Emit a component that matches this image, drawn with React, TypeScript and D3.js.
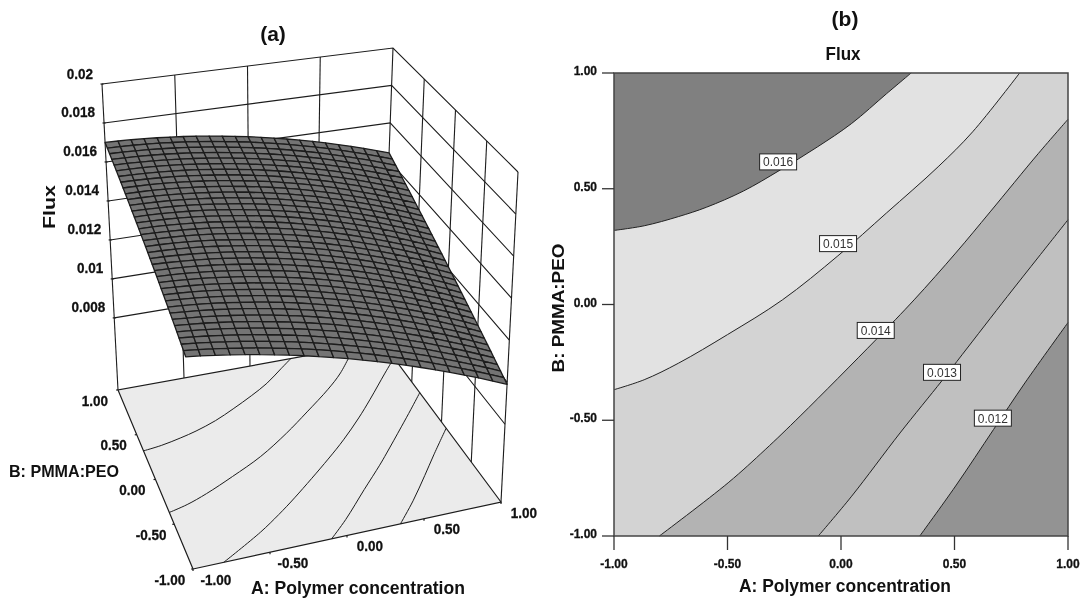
import React from "react";
import * as d3 from "d3";

// ---- data ----
const axisTicks = [-1, -0.5, 0, 0.5, 1];
const axisTickLabels = ["-1.00", "-0.50", "0.00", "0.50", "1.00"];
const fluxTicks = [0.02, 0.018, 0.016, 0.014, 0.012, 0.01, 0.008];
const fluxTickLabels = ["0.02", "0.018", "0.016", "0.014", "0.012", "0.01", "0.008"];
const fluxFloor = 0.0043;

// contour lines, [A, B]
const contour016 = [[-1, 0.32], [-0.867, 0.34], [-0.715, 0.38], [-0.593, 0.42], [-0.43, 0.49], [-0.273, 0.578], [-0.105, 0.68], [0.047, 0.782], [0.2, 0.91], [0.309, 1]];
const contour015 = [[-1, -0.368], [-0.867, -0.325], [-0.715, -0.253], [-0.5, -0.13], [-0.258, 0.02], [-0.014, 0.21], [0.2, 0.395], [0.428, 0.595], [0.58, 0.746], [0.787, 1]];
const contour014 = [[-0.8, -1], [-0.497, -0.77], [-0.334, -0.627], [-0.18, -0.482], [0.154, -0.152], [0.322, 0.02], [0.505, 0.222], [0.657, 0.4], [0.87, 0.653], [1, 0.8]];
const contour013 = [[-0.1, -1], [0.047, -0.828], [0.26, -0.555], [0.444, -0.33], [0.535, -0.215], [0.733, 0.035], [0.87, 0.205], [1, 0.366]];
const contour012 = [[0.347, -1], [0.505, -0.784], [0.672, -0.54], [0.81, -0.339], [1, -0.078]];
const contours = [contour016, contour015, contour014, contour013, contour012];
const contourNames = ["0.016", "0.015", "0.014", "0.013", "0.012"];
const contourLabelA = [-0.277, -0.013, 0.153, 0.445, 0.669];
const contourLabelB = [0.616, 0.263, -0.112, -0.293, -0.491];
const bandGreys = ["#808080", "#e2e2e2", "#d3d3d3", "#b3b3b3", "#c0c0c0", "#939393"];

// region closing corners for each contour
const closeTopRight = [[1, 1], [1, -1], [-1, -1]];
const closeBottomRight = [[1, -1]];
const contourClosures = [closeTopRight, closeTopRight, closeBottomRight, closeBottomRight, closeBottomRight];

// response surface at A,B in {-1,0,1}; rows B = -1,0,1
const surfaceNodes = [-1, 0, 1];
const surfaceRowLow = [0.0139, 0.0125, 0.0099];
const surfaceRowMid = [0.0155, 0.0146, 0.0121];
const surfaceRowHigh = [0.017, 0.0163, 0.0144];
const surfaceRows = [surfaceRowLow, surfaceRowMid, surfaceRowHigh];
const meshColumns = 22;
const meshRows = 36;

// ---- right panel scales ----
const xR = d3.scaleLinear().domain([-1, 1]).range([614, 1068]);
const yR = d3.scaleLinear().domain([-1, 1]).range([536, 73]);

// ---- left panel projection ----
type P = [number, number];
function bilinear(p00: P, p10: P, p11: P, p01: P) {
  return (u: number, v: number): P => [
    (1 - u) * (1 - v) * p00[0] + u * (1 - v) * p10[0] + u * v * p11[0] + (1 - u) * v * p01[0],
    (1 - u) * (1 - v) * p00[1] + u * (1 - v) * p10[1] + u * v * p11[1] + (1 - u) * v * p01[1],
  ];
}
const floorMap = bilinear([193, 569], [501, 502], [382, 342], [118, 390]);
const topMap = bilinear([181, 222], [518, 172], [393, 48], [102, 84]);
const unit = d3.scaleLinear().domain([-1, 1]).range([0, 1]);
const zFrac = d3.scaleLinear().domain([fluxFloor, 0.02]).range([0, 1]);
function proj(A: number, B: number, z: number): P {
  const f = floorMap(unit(A), unit(B));
  const t = topMap(unit(A), unit(B));
  const k = zFrac(z);
  return [f[0] + (t[0] - f[0]) * k, f[1] + (t[1] - f[1]) * k];
}
function basis(t: number): number[] {
  return surfaceNodes.map((n, i) => {
    let r = 1;
    surfaceNodes.forEach((m, j) => { if (j !== i) r *= (t - m) / (n - m); });
    return r;
  });
}
function surfaceZ(A: number, B: number): number {
  const la = basis(A), lb = basis(B);
  let s = 0;
  surfaceRows.forEach((row, j) => row.forEach((v, i) => { s += v * la[i] * lb[j]; }));
  return s;
}

const smooth = d3.line<P>().curve(d3.curveCatmullRom.alpha(0.5));
const straight = d3.line<P>();
const FONT = "'Liberation Sans', Arial, sans-serif";
const INK = "#1c1c1c";

// width of a bold tick label, so taller glyphs keep the reference's width
function labelWidth(s: string, em: number): number {
  let w = 0;
  for (const ch of s) w += ch === "." ? 0.278 : ch === "-" ? 0.333 : 0.556;
  return w * em;
}

function LeftPanel() {
  const floorCorners: P[] = [proj(-1, -1, fluxFloor), proj(1, -1, fluxFloor), proj(1, 1, fluxFloor), proj(-1, 1, fluxFloor)];
  const cells: { d: string }[] = [];
  const As = d3.range(meshColumns + 1).map((i) => -1 + (2 * i) / meshColumns);
  const Bs = d3.range(meshRows + 1).map((j) => 1 - (2 * j) / meshRows);
  for (let j = 0; j < meshRows; j++) {
    for (let i = 0; i < meshColumns; i++) {
      const q: P[] = [
        [As[i], Bs[j]], [As[i + 1], Bs[j]], [As[i + 1], Bs[j + 1]], [As[i], Bs[j + 1]],
      ].map(([a, b]) => proj(a, b, surfaceZ(a, b)));
      cells.push({ d: straight(q)! + "Z" });
    }
  }
  const wallTicks = axisTicks.slice(1, 4);
  return (
    <g>
      {/* walls */}
      <g fill="none" stroke={INK} strokeWidth={1.1}>
        {fluxTicks.map((z) => (
          <path key={z} d={straight([proj(-1, 1, z), proj(1, 1, z), proj(1, -1, z)])!} />
        ))}
        {wallTicks.map((a) => (
          <path key={"a" + a} d={straight([proj(a, 1, 0.02), proj(a, 1, fluxFloor)])!} />
        ))}
        {wallTicks.map((b) => (
          <path key={"b" + b} d={straight([proj(1, b, 0.02), proj(1, b, fluxFloor)])!} />
        ))}
        <path d={straight([proj(-1, 1, 0.02), proj(-1, 1, fluxFloor)])!} />
        <path d={straight([proj(1, 1, 0.02), proj(1, 1, fluxFloor)])!} />
        <path d={straight([proj(1, -1, 0.02), proj(1, -1, fluxFloor)])!} />
      </g>
      {/* floor */}
      <path d={straight(floorCorners)! + "Z"} fill="#ebebeb" stroke={INK} strokeWidth={1.2} />
      {contours.map((c, i) => (
        <path key={i} d={smooth(c.map(([a, b]) => proj(a, b, fluxFloor)))!} fill="none" stroke={INK} strokeWidth={1} />
      ))}
      {/* surface */}
      <g fill="#747474" stroke={INK} strokeWidth={1.3} strokeLinejoin="round">
        {cells.map((c, i) => <path key={i} d={c.d} />)}
      </g>
      {/* ticks on the floor edges */}
      <g stroke={INK} strokeWidth={1.2}>
        {axisTicks.map((t) => {
          const p = proj(t, -1, fluxFloor), q = proj(-1, t, fluxFloor);
          return (
            <g key={t}>
              <line x1={p[0]} y1={p[1]} x2={p[0]} y2={p[1] + 2} />
              <line x1={q[0]} y1={q[1]} x2={q[0] - 2} y2={q[1]} />
            </g>
          );
        })}
        {fluxTicks.map((z) => {
          const p = proj(-1, 1, z);
          return <line key={z} x1={p[0] - 1.5} y1={p[1]} x2={p[0] + 1.5} y2={p[1]} />;
        })}
      </g>
      {/* labels */}
      <g fontFamily={FONT} fontWeight="bold" fill="#111" stroke="#111" strokeWidth={0.3} fontSize={14.5}>
        {fluxTicks.map((z, i) => {
          const p = proj(-1, 1, z);
          return <text key={z} x={p[0] - 9} y={p[1] - 10.5} textAnchor="end" dominantBaseline="central" textLength={labelWidth(fluxTickLabels[i], 13.5)} lengthAdjust="spacingAndGlyphs">{fluxTickLabels[i]}</text>;
        })}
        {axisTicks.map((t, i) => {
          const p = proj(-1, t, fluxFloor);
          return <text key={"B" + t} x={p[0] - 23} y={p[1] + 10.5} textAnchor="middle" dominantBaseline="central" textLength={labelWidth(axisTickLabels[i], 13.5)} lengthAdjust="spacingAndGlyphs">{axisTickLabels[i]}</text>;
        })}
        {axisTicks.map((t, i) => {
          const p = proj(t, -1, fluxFloor);
          return <text key={"A" + t} x={p[0] + 23} y={p[1] + 10.5} textAnchor="middle" dominantBaseline="central" textLength={labelWidth(axisTickLabels[i], 13.5)} lengthAdjust="spacingAndGlyphs">{axisTickLabels[i]}</text>;
        })}
      </g>
      <g fontFamily={FONT} fontWeight="bold" fill="#111">
        <text x={273} y={33} fontSize={21} textAnchor="middle" dominantBaseline="central">(a)</text>
        <text transform="translate(49,207) rotate(-90)" fontSize={17} textAnchor="middle" dominantBaseline="central" textLength={44} lengthAdjust="spacingAndGlyphs">Flux</text>
        <text x={64} y={471} fontSize={17} textAnchor="middle" dominantBaseline="central" textLength={110} lengthAdjust="spacingAndGlyphs">B: PMMA:PEO</text>
        <text x={358} y={588} fontSize={18} textAnchor="middle" dominantBaseline="central" textLength={214} lengthAdjust="spacingAndGlyphs">A: Polymer concentration</text>
      </g>
    </g>
  );
}

function RightPanel() {
  const [x0, x1] = xR.range();
  const [y0, y1] = yR.range();
  const toPx = ([a, b]: number[]): P => [xR(a), yR(b)];
  return (
    <g>
      <rect x={x0} y={y1} width={x1 - x0} height={y0 - y1} fill={bandGreys[0]} />
      {contours.map((c, i) => {
        const line = smooth(c.map(toPx))!;
        const close = contourClosures[i].map((p) => { const q = toPx(p); return `L${q[0]},${q[1]}`; }).join("");
        return <path key={i} d={line + close + "Z"} fill={bandGreys[i + 1]} stroke="none" />;
      })}
      {contours.map((c, i) => (
        <path key={i} d={smooth(c.map(toPx))!} fill="none" stroke="#222" strokeWidth={1} />
      ))}
      <rect x={x0} y={y1} width={x1 - x0} height={y0 - y1} fill="none" stroke="#444" strokeWidth={1.5} />
      <g stroke="#333" strokeWidth={1.3}>
        {axisTicks.map((t) => <line key={"x" + t} x1={xR(t)} x2={xR(t)} y1={y0} y2={y0 + 14} />)}
        {axisTicks.map((t) => <line key={"y" + t} x1={x0 - 12} x2={x0} y1={yR(t)} y2={yR(t)} />)}
      </g>
      <g fontFamily={FONT} fontWeight="bold" fontSize={12.6} fill="#111" stroke="#111" strokeWidth={0.3}>
        {axisTicks.map((t, i) => (
          <text key={"xl" + t} x={xR(t)} y={564} textAnchor="middle" dominantBaseline="central" textLength={labelWidth(axisTickLabels[i], 12)} lengthAdjust="spacingAndGlyphs">{axisTickLabels[i]}</text>
        ))}
        {axisTicks.map((t, i) => (
          <text key={"yl" + t} x={597} y={yR(t) - 2} textAnchor="end" dominantBaseline="central" textLength={labelWidth(axisTickLabels[i], 12)} lengthAdjust="spacingAndGlyphs">{axisTickLabels[i]}</text>
        ))}
      </g>
      {contourNames.map((name, i) => {
        const cx = xR(contourLabelA[i]), cy = yR(contourLabelB[i]);
        return (
          <g key={name}>
            <rect x={cx - 18.5} y={cy - 8} width={37} height={16} fill="#fff" stroke="#222" strokeWidth={1} />
            <text x={cx} y={cy + 0.5} fontFamily={FONT} fontSize={12} fill="#333" textAnchor="middle" dominantBaseline="central">{name}</text>
          </g>
        );
      })}
      <g fontFamily={FONT} fontWeight="bold" fill="#111">
        <text x={845} y={18} fontSize={21} textAnchor="middle" dominantBaseline="central">(b)</text>
        <text x={843} y={54} fontSize={17.5} textAnchor="middle" dominantBaseline="central" textLength={35} lengthAdjust="spacingAndGlyphs">Flux</text>
        <text x={845} y={586} fontSize={18} textAnchor="middle" dominantBaseline="central" textLength={212} lengthAdjust="spacingAndGlyphs">A: Polymer concentration</text>
        <text transform="translate(558,308) rotate(-90)" fontSize={17} textAnchor="middle" dominantBaseline="central" textLength={129} lengthAdjust="spacingAndGlyphs">B: PMMA:PEO</text>
      </g>
    </g>
  );
}

export default function App() {
  return (
    <svg
      width={1084}
      height={600}
      viewBox="0 0 1084 600"
      style={{ position: "absolute", left: 0, top: 0, background: "#fff", filter: "blur(0.45px)" }}
    >
      <LeftPanel />
      <RightPanel />
    </svg>
  );
}
